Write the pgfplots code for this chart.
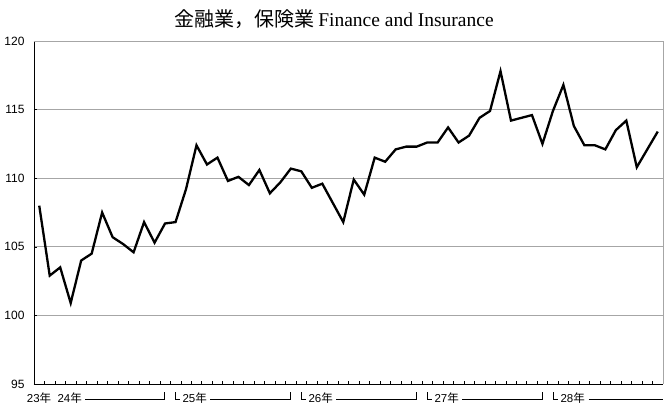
\documentclass[border=0pt]{standalone}
\usepackage{pgfplots}
\pgfplotsset{compat=1.18}
\usepackage{fontspec}
\setmainfont{Liberation Sans}
\newfontfamily\seriffont{Liberation Serif}
\newfontfamily\cjk{Noto Sans CJK JP}
\pgfplotstableread{
x y
0 108.0
1 102.9
2 103.5
3 100.9
4 104.0
5 104.5
6 107.5
7 105.7
8 105.2
9 104.6
10 106.8
11 105.3
12 106.7
13 106.8
14 109.2
15 112.4
16 111.0
17 111.5
18 109.8
19 110.1
20 109.5
21 110.6
22 108.9
23 109.7
24 110.7
25 110.5
26 109.3
27 109.6
28 108.2
29 106.8
30 109.9
31 108.8
32 111.5
33 111.2
34 112.1
35 112.3
36 112.3
37 112.6
38 112.6
39 113.7
40 112.6
41 113.1
42 114.4
43 114.9
44 117.8
45 114.2
46 114.4
47 114.6
48 112.5
49 114.9
50 116.8
51 113.8
52 112.4
53 112.4
54 112.1
55 113.5
56 114.2
57 110.8
58 112.1
59 113.4
}\datatable
\begin{document}
\begin{tikzpicture}
\useasboundingbox (-34pt,-23pt) rectangle (638pt,384pt);
\begin{axis}[
  scale only axis, width=629pt, height=343pt,
  xmin=-0.5, xmax=59.5, ymin=95, ymax=120,
  axis x line*=bottom, axis y line*=left,
  axis line style={black, line width=0.9pt, -},
  xtick={0.5,1.5,...,58.5}, xticklabels={},
  xtick style={black, line width=0.5pt},
  ytick style={black, line width=0.5pt},
  tick align=inside, major tick length=3.3pt,
  ytick={95,100,...,120},
  ymajorgrids, grid style={gray!70, line width=0.7pt},
  /pgf/number format/assume math mode=true,
  yticklabel style={font=\fontsize{12}{13}\selectfont, xshift=-6pt},
  clip=false,
]
\draw[gray!70, line width=0.8pt] (rel axis cs:0,1) -- (rel axis cs:1,1) -- (rel axis cs:1,0);
\addplot[black, line width=2.3pt, line join=miter, mark=none] table[x=x,y=y] {\datatable};
\end{axis}
\node[anchor=base, inner sep=0pt] at (300pt,357.3pt) {\fontsize{20}{22}\selectfont\cjk 金融業，保険業\hspace{0.2em}{\seriffont\fontsize{19.5}{22}\selectfont Finance and Insurance}};
\begin{scope}[every node/.style={anchor=base west, inner sep=0pt, font=\fontsize{11.5}{12}\selectfont}]
\node at (-7.3pt,-18.7pt) {23{\cjk 年}};
\node at (23.3pt,-18.7pt) {24{\cjk 年}};
\draw[line width=0.6pt] (51pt,-15pt) -- (130pt,-15pt) -- (130pt,-8.3pt);
\foreach \k/\yr in {0/25,1/26,2/27} {
  \pgfmathsetmacro{\L}{141+126*\k}
  \pgfmathsetmacro{\R}{256+126*\k}
  \draw[line width=0.6pt] (\L pt,-8.3pt) -- (\L pt,-15pt) -- (\L pt+5pt,-15pt);
  \node at (\L pt+7.3pt,-18.7pt) {\yr{\cjk 年}};
  \draw[line width=0.6pt] (\L pt+35pt,-15pt) -- (\R pt,-15pt) -- (\R pt,-8.3pt);
}
\draw[line width=0.6pt] (519pt,-8.3pt) -- (519pt,-15pt) -- (524pt,-15pt);
\node at (526.3pt,-18.7pt) {28{\cjk 年}};
\draw[line width=0.6pt] (554.7pt,-15pt) -- (628.7pt,-15pt);
\end{scope}
\end{tikzpicture}
\end{document}
